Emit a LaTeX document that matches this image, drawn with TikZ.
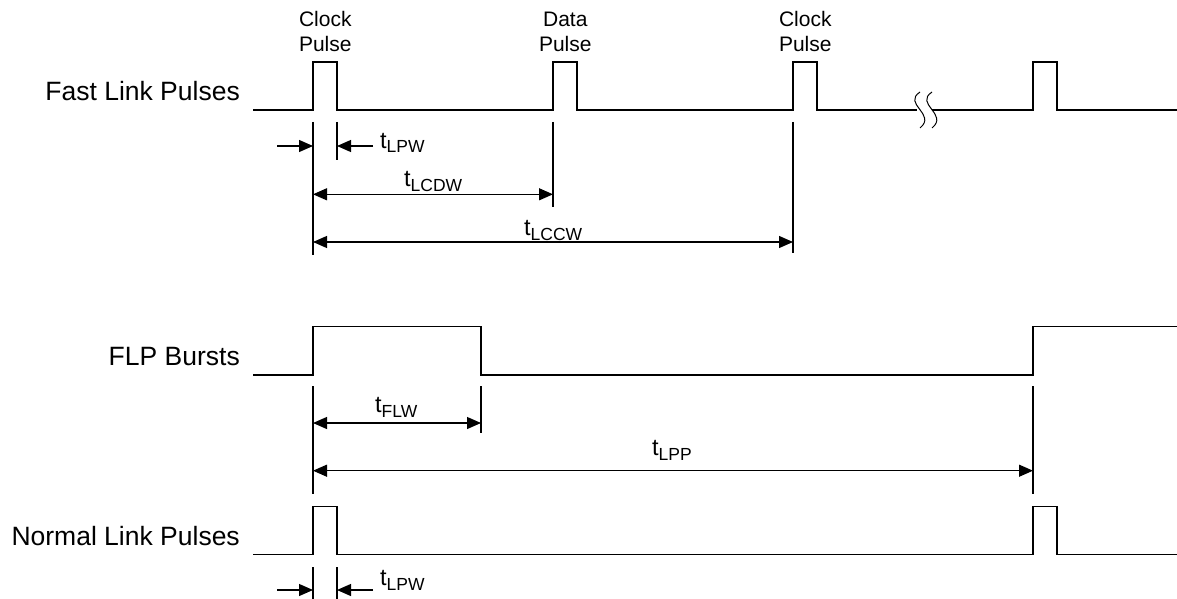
\documentclass[tikz,border=0pt]{standalone}
\usepackage{fontspec}
\setmainfont{Liberation Sans}
\usetikzlibrary{arrows.meta}
\tikzset{
	sig/.style={line width=1.3pt, line join=miter},
	tick/.style={line width=1.2pt},
	dim/.style={line width=1.2pt, -{Triangle[length=14pt,width=12pt]}},
	ddim/.style={line width=1.2pt, {Triangle[length=14pt,width=12pt]}-{Triangle[length=14pt,width=12pt]}},
	rowlbl/.style={font=\fontsize{26.5}{30}\selectfont, inner sep=0, anchor=base east},
	toplbl/.style={font=\fontsize{21}{25}\selectfont, inner sep=0, anchor=south, align=center},
	tlbl/.style={font=\fontsize{23.5}{26}\selectfont, inner sep=0, anchor=base west}
}
\newcommand{\tsub}[1]{t\raisebox{-5pt}{\fontsize{17.5}{19}\selectfont #1}}

\begin{document}
\begin{tikzpicture}[x=1pt, y=-1pt]
		%%%%% START %%%%%
		\useasboundingbox (0, 0) rectangle (1177, 599);
		
		% Fast Link Pulses
		\node[rowlbl] (flp) at (240, 100.7) {Fast Link Pulses};
		\draw[sig] (253, 110) -- (313, 110) -- (313, 62) -- (337, 62) -- (337, 110)
			-- (553, 110) -- (553, 62) -- (577, 62) -- (577, 110)
			-- (793, 110) -- (793, 62) -- (817, 62) -- (817, 110) -- (917, 110);
		\draw[sig] (932, 110) -- (1033, 110) -- (1033, 62) -- (1057, 62) -- (1057, 110) -- (1177, 110);
		\draw[line width=1pt] (920, 92) .. controls (902, 104) and (937, 114) .. (920, 128);
		\draw[line width=1pt] (932, 92) .. controls (914, 104) and (949, 114) .. (932, 128);
		
		\node[toplbl] (ck1) at (325.3, 51.7) {Clock\\Pulse};
		\node[toplbl] (dat) at (565.3, 51.7) {Data\\Pulse};
		\node[toplbl] (ck2) at (805.3, 51.7) {Clock\\Pulse};
		
		\draw[tick] (313, 122) -- (313, 255);
		\draw[tick] (337, 122) -- (337, 160);
		\draw[tick] (553, 122) -- (553, 207);
		\draw[tick] (793, 122) -- (793, 253);
		
		\coordinate (pw1l) at (313, 146);
		\coordinate (pw1r) at (337, 146);
		\draw[dim] (277, 146) -- (pw1l);
		\draw[dim] (373, 146) -- (pw1r);
		\node[tlbl] (tpw1) at (380, 148) {\tsub{LPW}};
		
		\coordinate (cdl) at (313, 194.3);
		\coordinate (cdr) at (553, 194.3);
		\draw[ddim] (cdl) -- (cdr);
		\node[tlbl] (tcd) at (404, 186.7) {\tsub{LCDW}};
		
		\coordinate (ccl) at (313, 242);
		\coordinate (ccr) at (793, 242);
		\draw[ddim] (ccl) -- (ccr);
		\node[tlbl] (tcc) at (524, 235) {\tsub{LCCW}};
		
		% FLP Bursts
		\node[rowlbl] (flpb) at (240, 365) {FLP Bursts};
		\draw[sig] (253, 375) -- (313, 375) -- (313, 326.5) -- (481, 326.5) -- (481, 375)
			-- (1033, 375) -- (1033, 326.5) -- (1177, 326.5);
		
		\draw[tick] (313, 386) -- (313, 494);
		\draw[tick] (481, 386) -- (481, 433);
		\draw[tick] (1033, 386) -- (1033, 494);
		
		\coordinate (fwl) at (313, 423);
		\coordinate (fwr) at (481, 423);
		\draw[ddim] (fwl) -- (fwr);
		\node[tlbl] (tfw) at (375, 412) {\tsub{FLW}};
		
		\coordinate (ppl) at (313, 470.7);
		\coordinate (ppr) at (1033, 470.7);
		\draw[ddim] (ppl) -- (ppr);
		\node[tlbl] (tpp) at (652, 455) {\tsub{LPP}};
		
		% Normal Link Pulses
		\node[rowlbl] (nlp) at (240, 545) {Normal Link Pulses};
		\draw[sig] (253, 554.3) -- (313, 554.3) -- (313, 506.3) -- (337, 506.3) -- (337, 554.3)
			-- (1033, 554.3) -- (1033, 506.3) -- (1057, 506.3) -- (1057, 554.3) -- (1177, 554.3);
		
		\draw[tick] (313, 567) -- (313, 599);
		\draw[tick] (337, 567) -- (337, 599);
		
		\coordinate (pw2l) at (313, 590);
		\coordinate (pw2r) at (337, 590);
		\draw[dim] (277, 590) -- (pw2l);
		\draw[dim] (373, 590) -- (pw2r);
		\node[tlbl] (tpw2) at (380, 585) {\tsub{LPW}};
		
		%%%%% END %%%%%
	\end{tikzpicture}
\end{document}
